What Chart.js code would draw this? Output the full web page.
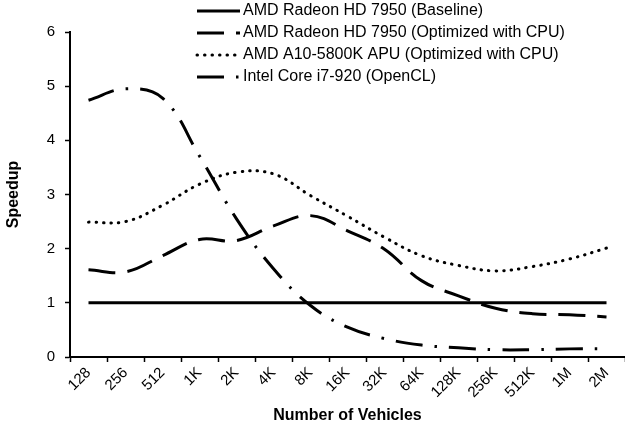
<!DOCTYPE html>
<html>
<head>
<meta charset="utf-8">
<script src="https://cdn.jsdelivr.net/npm/chart.js@4.4.0/dist/chart.umd.min.js"></script>
<style>
    body { margin: 0; background: #fff; }
    .chart-box { position: relative; width: 625px; height: 429px; }
</style>
</head>
<body>
<div class="chart-box"><canvas id="chart-speedup"></canvas></div>

<script>
    const vehicles = ['128', '256', '512', '1K', '2K', '4K', '8K', '16K', '32K', '64K', '128K', '256K', '512K', '1M', '2M'];
    const speedupTicks = [0, 1, 2, 3, 4, 5, 6];

    const seriesNames = [
        'AMD Radeon HD 7950 (Baseline)',
        'AMD Radeon HD 7950 (Optimized with CPU)',
        'AMD A10-5800K APU (Optimized with CPU)',
        'Intel Core i7-920 (OpenCL)'
    ];

    const baseline = [1, 1, 1, 1, 1, 1, 1, 1, 1, 1, 1, 1, 1, 1, 1];
    const radeonOptimized = [1.61, 1.57, 1.87, 2.17, 2.15, 2.42, 2.61, 2.33, 1.99, 1.41, 1.13, 0.90, 0.80, 0.78, 0.74];
    const apuOptimized = [2.49, 2.50, 2.80, 3.19, 3.41, 3.38, 2.98, 2.60, 2.21, 1.87, 1.69, 1.59, 1.67, 1.81, 2.01];
    const intelOpenCL = [4.74, 4.95, 4.78, 3.71, 2.55, 1.63, 0.95, 0.55, 0.34, 0.22, 0.17, 0.135, 0.135, 0.15, 0.15];

    const fontFamily = '"Liberation Sans", Arial, sans-serif';

    // legend sits inside the plot, top right, one row per series
    const legendLines = {
        id: 'legendLines',
        afterDraw(chart) {
            const ctx = chart.ctx;
            chart.data.datasets.forEach(function (ds, i) {
                const y = 11 + i * 22;
                ctx.save();
                ctx.strokeStyle = '#000';
                ctx.lineWidth = ds.borderWidth;
                ctx.lineCap = ds.borderCapStyle || 'butt';
                ctx.setLineDash(ds.borderDash || []);
                ctx.beginPath();
                ctx.moveTo(197, y);
                ctx.lineTo(240, y);
                ctx.stroke();
                ctx.setLineDash([]);
                ctx.fillStyle = '#000';
                ctx.font = '16px ' + fontFamily;
                ctx.textBaseline = 'middle';
                ctx.fillText(ds.label, 243, y);
                ctx.restore();
            });
        }
    };

    const dataS = {
        labels: vehicles,
        datasets: [{
            label: seriesNames[0],
            data: baseline,
            borderColor: '#000',
            borderWidth: 3,
            borderDash: [],
            pointRadius: 0,
            tension: 0.4
        }, {
            label: seriesNames[1],
            data: radeonOptimized,
            borderColor: '#000',
            borderWidth: 3,
            borderDash: [27, 12],
            pointRadius: 0,
            tension: 0.4
        }, {
            label: seriesNames[2],
            data: apuOptimized,
            borderColor: '#000',
            borderWidth: 3,
            borderDash: [0.5, 7],
            borderCapStyle: 'round',
            pointRadius: 0,
            tension: 0.4
        }, {
            label: seriesNames[3],
            data: intelOpenCL,
            borderColor: '#000',
            borderWidth: 3,
            borderDash: [27, 12, 2.5, 12],
            pointRadius: 0,
            tension: 0.4
        }]
    };

    const configS = {
        type: 'line',
        data: dataS,
        plugins: [legendLines],
        options: {
            responsive: true,
            maintainAspectRatio: false,
            animation: false,
            layout: {
                padding: { top: 32, right: 0, left: 0, bottom: 0 }
            },
            plugins: {
                legend: { display: false },
                tooltip: { enabled: false }
            },
            scales: {
                x: {
                    offset: true,
                    grid: { offset: true, drawOnChartArea: false, color: '#000', tickLength: 5, tickWidth: 1.5 },
                    border: { color: '#000', width: 2 },
                    ticks: {
                        color: '#000',
                        font: { size: 15, family: fontFamily },
                        minRotation: 45,
                        maxRotation: 45,
                        autoSkip: false,
                        padding: 2
                    },
                    title: {
                        display: true,
                        text: 'Number of Vehicles',
                        color: '#000',
                        font: { size: 16, weight: 'bold', family: fontFamily },
                        padding: { top: 4, bottom: 4 }
                    },
                    afterFit(scale) { scale.height = 72; }
                },
                y: {
                    min: 0,
                    max: 6,
                    afterBuildTicks(scale) {
                        scale.ticks = speedupTicks.map(function (v) { return { value: v }; });
                    },
                    grid: { drawOnChartArea: false, color: '#000', tickLength: 5, tickWidth: 1.5 },
                    border: { color: '#000', width: 2 },
                    ticks: {
                        color: '#000',
                        font: { size: 15, family: fontFamily },
                        padding: 10
                    },
                    title: {
                        display: true,
                        text: 'Speedup',
                        color: '#000',
                        font: { size: 16, weight: 'bold', family: fontFamily },
                        padding: { top: 4, bottom: 4 }
                    },
                    afterFit(scale) { scale.width = 70; }
                }
            }
        }
    };

    var chartSpeedup = new Chart(
        document.getElementById('chart-speedup'),
        configS
    );
</script>
</body>
</html>
